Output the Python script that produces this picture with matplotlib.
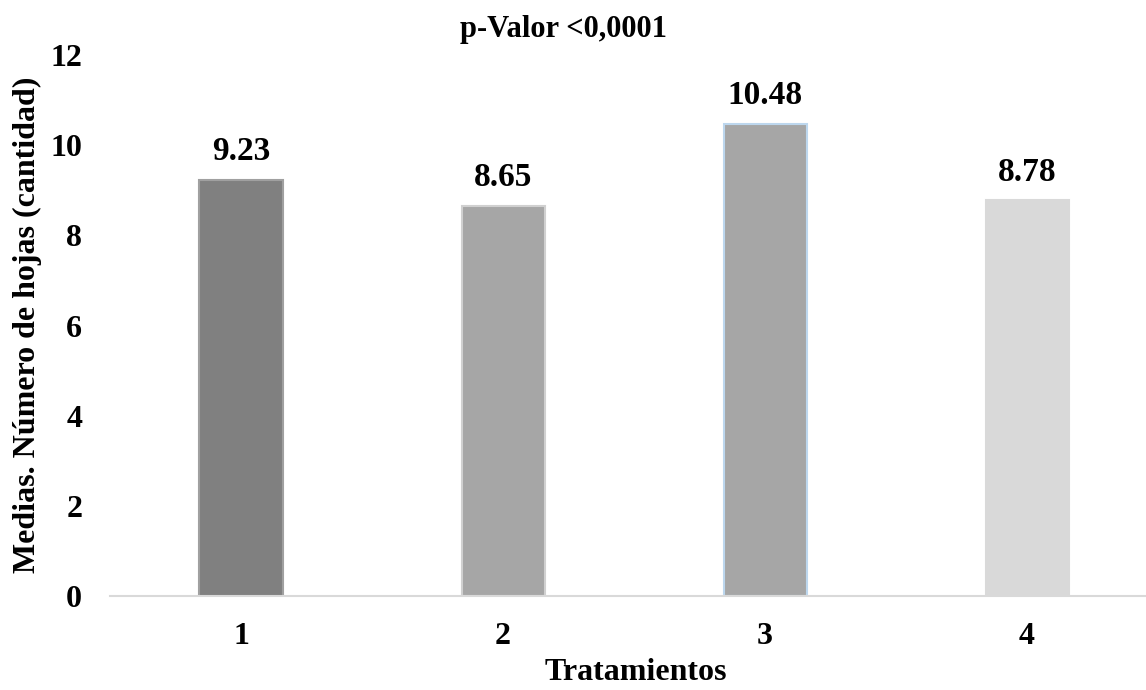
import matplotlib
matplotlib.use("Agg")
import matplotlib.pyplot as plt

categories = ["1", "2", "3", "4"]
values = [9.23, 8.65, 10.48, 8.78]
labels = ["9.23", "8.65", "10.48", "8.78"]
yticks = [0, 2, 4, 6, 8, 10, 12]

face = ["#808080", "#a6a6a6", "#a6a6a6", "#d9d9d9"]
edge = ["#a0a0a0", "#d0d0d0", "#bdd7ee", "#d9d9d9"]

plt.rcParams['font.family'] = ['Liberation Serif', 'DejaVu Serif']
plt.rcParams['font.weight'] = 'bold'

fig = plt.figure(figsize=(11.46, 6.9), dpi=100)
ax = fig.add_axes([0.096, 0.1362, 0.904, 0.7841])

x = list(range(len(categories)))
ax.bar(x, values, width=0.317, color=face, edgecolor=edge, linewidth=1.5, zorder=2)
for xi, v, lab in zip(x, values, labels):
    ax.text(xi, v + 0.28, lab, ha='center', va='bottom', fontsize=24, fontweight='bold')

ax.set_xlim(-0.5, 3.454)
ax.set_ylim(0, 12)
ax.set_yticks(yticks)
ax.set_xticks(x)
ax.set_xticklabels(categories)
ax.tick_params(axis='both', length=0, labelsize=23)
ax.tick_params(axis='y', pad=20)
ax.tick_params(axis='x', pad=19)
for lab in ax.get_xticklabels() + ax.get_yticklabels():
    lab.set_fontweight('bold')
for s in ['top', 'right', 'left']:
    ax.spines[s].set_visible(False)
ax.spines['bottom'].set_color('#d9d9d9')
ax.spines['bottom'].set_linewidth(1.5)

fig.text(636 / 1146, 1 - 673 / 690, "Tratamientos", ha='center', va='center',
         fontsize=23, fontweight='bold')
fig.text(27 / 1146, 0.529, "Medias. Número de hojas (cantidad)", rotation=90,
         ha='center', va='center', fontsize=23, fontweight='bold')
fig.text(0.492, 1 - 30 / 690, "p-Valor <0,0001", ha='center', va='center', fontsize=22, fontweight='bold')

fig.savefig("out.png", dpi=100)
